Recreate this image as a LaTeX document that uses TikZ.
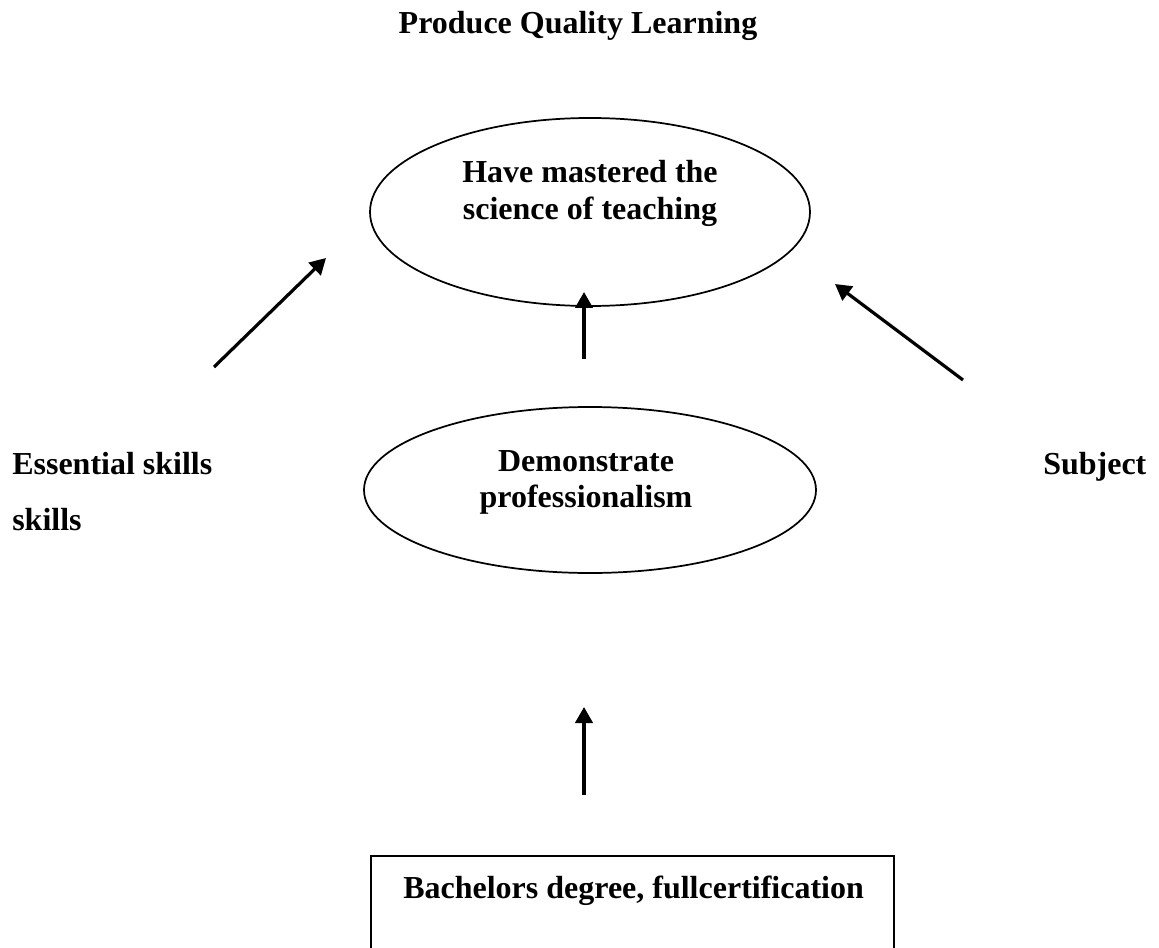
\documentclass[tikz,border=0pt]{standalone}
\usepackage{fontspec}
\setmainfont{Liberation Serif}
\usetikzlibrary{shapes.geometric,arrows.meta}

\begin{document}
\begin{tikzpicture}[x=0.75pt,y=-0.75pt,
  txt/.style={font=\fontsize{24}{28}\selectfont\bfseries, inner sep=0pt, anchor=base},
  txtleft/.style={txt, anchor=base west},
  oval/.style={ellipse, draw, line width=1.3pt, inner sep=0pt, outer sep=0pt},
  boxframe/.style={draw, line width=1.4pt, inner sep=0pt, outer sep=0pt, anchor=north west},
  uparrow/.style={line width=2.4pt, -{Triangle[length=12pt,width=13pt]}}
]
  % page frame
  \useasboundingbox[fill=white] (0,0) rectangle (1159,948);
  \clip (0,0) rectangle (1159,948);

  % heading
  \node[txt] (title) at (578,34) {Produce Quality Learning};

  % upper oval
  \node[oval, minimum width=330pt, minimum height=141pt] (mastery) at (590,212) {};
  \node[txt] (mastery1) at (590,183) {Have mastered the};
  \node[txt] (mastery2) at (590,220) {science of teaching};

  % middle oval
  \node[oval, minimum width=339pt, minimum height=124.5pt] (prof) at (590,490) {};
  \node[txt] (prof1) at (586,471) {Demonstrate};
  \node[txt] (prof2) at (586,507) {professionalism};

  % side labels
  \node[txtleft] (ess1) at (12,474) {Essential skills};
  \node[txtleft] (ess2) at (12,530) {skills};
  \node[txtleft] (subj) at (1043,474) {Subject};

  % bottom box, running past the lower edge
  \node[boxframe, minimum width=392.25pt, minimum height=100pt] (degree) at (371,856) {};
  \node[txtleft] (degreetxt) at (403,898) {Bachelors degree, fullcertification};

  % arrow end points
  \coordinate (essTail) at (214,367);
  \coordinate (essHead) at (326,258);
  \coordinate (subjTail) at (963,380);
  \coordinate (subjHead) at (835,284);
  \coordinate (profTail) at (584,359);
  \coordinate (profHead) at (584,292);
  \coordinate (degTail) at (584,795);
  \coordinate (degHead) at (584,707);

  \draw[uparrow] (essTail) -- (essHead);
  \draw[uparrow] (subjTail) -- (subjHead);
  \draw[uparrow] (profTail) -- (profHead);
  \draw[uparrow] (degTail) -- (degHead);
\end{tikzpicture}
\end{document}
